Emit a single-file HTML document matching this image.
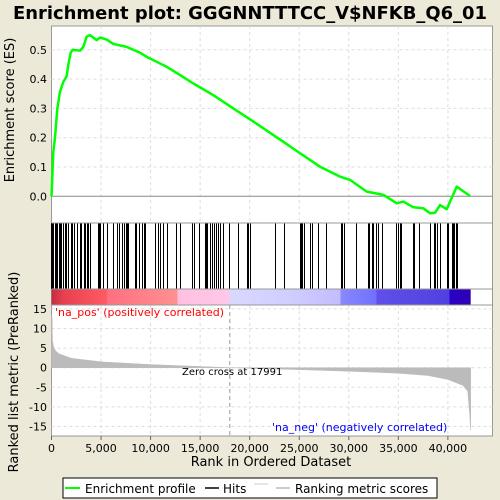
<!DOCTYPE html>
<html><head><meta charset="utf-8"><style>
body{margin:0;background:#ece9d8;}
svg{display:block;font-family:"DejaVu Sans","Liberation Sans",sans-serif;}
</style></head><body>
<svg id="c" width="500" height="500" viewBox="0 0 500 500" xmlns="http://www.w3.org/2000/svg">
<rect x="0" y="0" width="500" height="500" fill="#ece9d8"/>
<text x="13" y="19" font-size="18" font-weight="bold" fill="#000" textLength="474" lengthAdjust="spacingAndGlyphs">Enrichment plot: GGGNNTTTCC_V$NFKB_Q6_01</text>
<rect x="51.5" y="26" width="441" height="410" fill="#fff" stroke="#999"/>
<g id="grid"></g>
<g id="es"></g>
<g id="hits" shape-rendering="crispEdges"></g>
<g id="bar"></g>
<g id="rank"></g>
<g id="axes"></g>
<text x="14" y="110" transform="rotate(-90 14 110)" text-anchor="middle" font-size="13">Enrichment score (ES)</text>
<text x="18" y="372" transform="rotate(-90 18 372)" text-anchor="middle" font-size="13">Ranked list metric (PreRanked)</text>
<text x="271" y="466" text-anchor="middle" font-size="13">Rank in Ordered Dataset</text>
<text x="55" y="316" font-size="11" fill="#f00">'na_pos' (positively correlated)</text>
<text x="272" y="431" font-size="11" fill="#00f">'na_neg' (negatively correlated)</text>
<text x="182" y="375" font-size="10" fill="#000">Zero cross at 17991</text>
<g>
<rect x="63" y="478" width="374" height="20" fill="#fff" stroke="#000"/>
<line x1="65" y1="488" x2="80" y2="488" stroke="#0f0" stroke-width="2"/>
<text x="85" y="493" font-size="12">Enrichment profile</text>
<line x1="205" y1="488" x2="219" y2="488" stroke="#000" stroke-width="1.5"/>
<text x="223" y="493" font-size="12">Hits</text>
<line x1="254" y1="484" x2="268" y2="484" stroke="#ccc"/>
<line x1="276" y1="488" x2="290" y2="488" stroke="#bbb" stroke-width="1.5"/>
<text x="295" y="493" font-size="12">Ranking metric scores</text>
</g>
</svg>
<script>
const esRanks=[0,185,353,589,858,1194,1531,1699,1935,2137,2876,3213,3549,3885,4558,4894,5567,6240,7586,8931,9604,10613,11622,12968,14314,16333,18351,20370,22388,23398,25079,27098,29116,30125,31807,33489,34835,35508,36517,37526,38199,38704,39208,39881,40218,40891,42236];
const esValues=[0,0.152,0.2,0.3,0.357,0.39,0.41,0.45,0.49,0.5,0.497,0.51,0.545,0.55,0.533,0.542,0.535,0.52,0.51,0.49,0.476,0.459,0.442,0.414,0.385,0.345,0.3,0.255,0.209,0.186,0.147,0.101,0.067,0.056,0.016,0.005,-0.024,-0.018,-0.0375,-0.041,-0.058,-0.056,-0.03,-0.044,-0.018,0.033,0.001];
const hitRanks=[0,130,250,400,520,650,800,900,1050,1200,1400,1550,1700,2035,2136,2271,2607,2876,2977,3280,3414,3616,3751,3885,4726,4827,4962,5231,5635,6240,6644,6846,7115,7317,7519,7687,7754,8460,8595,8864,9133,9335,9469,10512,10815,10950,11286,11723,12632,13036,14247,14381,14886,15559,15660,15727,15996,16198,16400,16601,16837,17072,17341,17947,18821,19763,19898,20033,22590,23464,25079,25213,25348,25482,26088,26290,26963,27703,29250,29385,29519,30798,31941,32076,32345,32480,32816,33018,33422,34835,34969,35171,35306,36517,36651,37122,38199,38602,38737,38939,39275,39948,40082,40419,40553,40688,40822,40957];
const metricRanks=[0,60,100,200,400,800,2000,5000,10000,15000,17991,25000,30000,35000,38000,40000,41500,42000,42200,42300];
const metricValues=[13.5,13,7,5.5,4.3,3.5,2.4,1.5,0.8,0.3,0,-0.5,-0.9,-1.4,-2,-3,-4.5,-6,-12,-16];
const xTicks=[0,5000,10000,15000,20000,25000,30000,35000,40000];
const xTickLabels=["0","5,000","10,000","15,000","20,000","25,000","30,000","35,000","40,000"];
const esTicks=[0,0.1,0.2,0.3,0.4,0.5];
const esTickLabels=["0.0","0.1","0.2","0.3","0.4","0.5"];
const mTicks=[15,10,5,0,-5,-10,-15];
const mTickLabels=["15","10","5","0","-5","-10","-15"];
const zeroCross=17991;

const NS="http://www.w3.org/2000/svg";
const X=r=>51.5+r*0.00991;
const YE=v=>196.3-v*293;
const YM=v=>367.7-v*3.92;
function mk(p,tag,attrs){const e=document.createElementNS(NS,tag);for(const k in attrs)e.setAttribute(k,attrs[k]);p.appendChild(e);return e;}
const grid=document.getElementById('grid'),es=document.getElementById('es'),hits=document.getElementById('hits'),bar=document.getElementById('bar'),rk=document.getElementById('rank'),ax=document.getElementById('axes');
xTicks.forEach((t,i)=>{
 if(i>0){[[26,223],[305,436]].forEach(([a,b])=>{const l=mk(grid,'line',{x1:X(t),x2:X(t),y1:a,y2:b,stroke:'#ddd','stroke-dasharray':'3,3'});});}
 const tl=mk(ax,'text',{x:X(t),y:452,'text-anchor':'middle','font-size':'11'});tl.textContent=xTickLabels[i];
 
 
 const tk=mk(ax,'line',{x1:X(t),x2:X(t),y1:436,y2:440,stroke:'#666'});
 
 
});
esTicks.forEach((t,i)=>{
 const l=mk(grid,'line',{x1:51.5,x2:492.5,y1:YE(t),y2:YE(t),stroke:t===0?'#888':'#ddd','stroke-dasharray':t===0?'':'3,3'});
 
 
 const tl=mk(ax,'text',{x:47,y:YE(t)+4,'text-anchor':'end','font-size':'11'});tl.textContent=esTickLabels[i];
 
 
});
mTicks.forEach((t,i)=>{
 const l=mk(grid,'line',{x1:51.5,x2:492.5,y1:YM(t),y2:YM(t),stroke:'#ddd','stroke-dasharray':'3,3'});
 
 
 const tl=mk(ax,'text',{x:47,y:YM(t)+4,'text-anchor':'end','font-size':'11'});tl.textContent=mTickLabels[i];
 
 
});
[223,289,305].forEach(y=>{const l=mk(ax,'line',{x1:51.5,x2:492.5,y1:y,y2:y,stroke:'#999'});});
const esPath=mk(es,'polyline',{points:esRanks.map((r,i)=>X(r)+','+YE(esValues[i])).join(' '),fill:'none',stroke:'#0f0','stroke-width':'2.5','stroke-linejoin':'round'});


hitRanks.forEach(r=>{const xp=Math.floor(X(r))+0.5;const l=mk(hits,'line',{x1:xp,x2:xp,y1:223,y2:289,stroke:'#000','stroke-width':'1'});});
const defs=mk(bar,'defs',{});
const g=mk(defs,'linearGradient',{id:'cg',x1:'0',x2:'1',y1:'0',y2:'0'});
[[0,'#c03040'],[0.03,'#e84050'],[0.13,'#ff5a64'],[0.135,'#ff7080'],[0.3,'#ff9090'],[0.3,'#ffc0e0'],[0.425,'#ffc8e8'],[0.425,'#d8d8ff'],[0.55,'#d0d0ff'],[0.69,'#c4bcff'],[0.69,'#8888ff'],[0.775,'#7070ff'],[0.775,'#6050e8'],[0.95,'#5040e0'],[0.95,'#2800c8'],[1,'#3000b0']].forEach(([o,c])=>mk(g,'stop',{offset:o,'stop-color':c}));
const cb=mk(bar,'rect',{x:X(0),y:289,width:X(42300)-X(0),height:16,fill:'url(#cg)'});


let pts=X(0)+','+YM(0)+' '+metricRanks.map((r,i)=>X(r)+','+YM(metricValues[i])).join(' ')+' '+X(42300)+','+YM(0);
const ar=mk(rk,'polygon',{points:pts,fill:'#bbb',stroke:'#bbb','stroke-width':'0.5'});


const zl=mk(rk,'line',{x1:X(zeroCross),x2:X(zeroCross),y1:305,y2:436,stroke:'#999','stroke-dasharray':'4,3'});


</script>
</body></html>
